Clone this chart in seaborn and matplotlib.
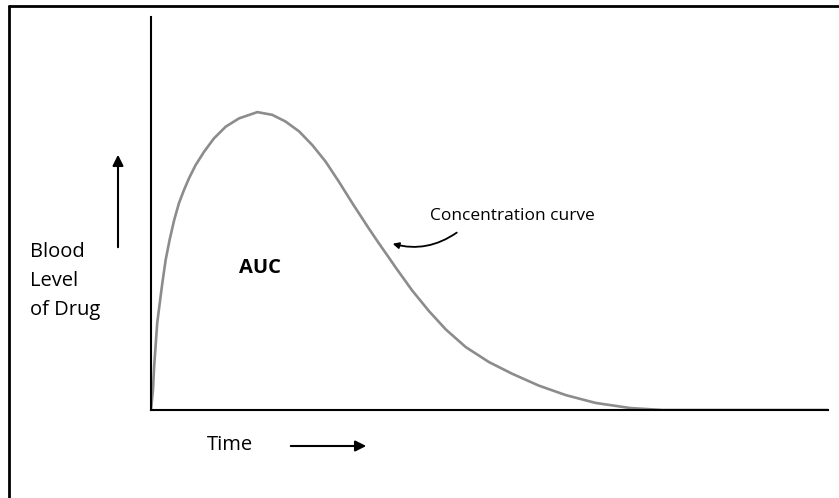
import numpy as np
import pandas as pd
import matplotlib
matplotlib.use("Agg")
import matplotlib.pyplot as plt
from matplotlib.lines import Line2D
import seaborn as sns

temps = [0.0, 0.07, 0.11, 0.17, 0.22, 0.31, 0.40, 0.52, 0.66, 0.82, 0.99, 1.17,
         1.35, 1.58, 1.88, 2.23, 2.65, 3.12, 3.77, 4.30, 4.77, 5.25, 5.72, 6.19,
         6.66, 7.14, 7.73, 8.08, 8.44, 8.67, 9.26, 9.85, 10.45, 11.16, 11.98,
         12.81, 13.75, 14.70, 15.76, 16.99, 18.13, 24.0]
niveaux = [0.0, 5.1, 11.0, 17.0, 22.1, 27.2, 32.2, 38.2, 43.3, 48.3, 52.6, 56.0,
           59.0, 62.3, 65.7, 69.1, 72.1, 74.2, 75.8, 75.1, 73.4, 70.9, 67.4, 63.2,
           58.1, 52.6, 46.1, 42.4, 38.7, 36.3, 30.4, 25.2, 20.5, 16.0, 12.2,
           9.2, 6.2, 3.8, 1.8, 0.5, 0.0, 0.0]

df = pd.DataFrame({"temps": temps, "niveau": niveaux})

sns.set_style("white")
plt.rcParams["font.family"] = ["Open Sans", "DejaVu Sans"]
plt.rcParams["text.color"] = "black"

fig = plt.figure(figsize=(8.39, 4.98), dpi=100)
ax = fig.add_axes([151 / 839, 88 / 498, 677 / 839, 393 / 498])

sns.lineplot(data=df, x="temps", y="niveau", color="#8c8c8c", linewidth=1.9, ax=ax)
ax.set_xlim(0, 24)
ax.set_ylim(0, 100)
ax.set_xticks([])
ax.set_yticks([])
ax.set_xlabel("")
ax.set_ylabel("")
for side in ["top", "right"]:
    ax.spines[side].set_visible(False)
for side in ["left", "bottom"]:
    ax.spines[side].set_color("black")
    ax.spines[side].set_linewidth(1.5)
    ax.spines[side].set_zorder(3)

# Textes
fig.text(30 / 839, 1 - 281 / 498, "Blood\nLevel\nof Drug", fontsize=14.5,
         va="center", ha="left", linespacing=1.6)
fig.text(260 / 839, 1 - 268 / 498, "AUC", fontsize=14.5, fontweight="bold",
         ha="center", va="center")
fig.text(512 / 839, 1 - 216 / 498, "Concentration curve", fontsize=12.5,
         ha="center", va="center")
fig.text(230 / 839, 1 - 445 / 498, "Time", fontsize=14.5, ha="center", va="center")

# Flèches
fleche = dict(arrowstyle="-|>", color="black", lw=1.5, mutation_scale=16)
ax.annotate("", xy=(369 / 839, 1 - 446 / 498), xytext=(288 / 839, 1 - 446 / 498),
            xycoords="figure fraction", annotation_clip=False, arrowprops=fleche)
ax.annotate("", xy=(118 / 839, 1 - 152 / 498), xytext=(118 / 839, 1 - 250 / 498),
            xycoords="figure fraction", annotation_clip=False, arrowprops=fleche)
ax.annotate("", xy=(390 / 839, 1 - 243 / 498), xytext=(459 / 839, 1 - 231 / 498),
            xycoords="figure fraction", annotation_clip=False,
            arrowprops=dict(arrowstyle="-|>", color="black", lw=1.3, mutation_scale=9,
                            connectionstyle="arc3,rad=-0.25"))

# Cadre
fig.add_artist(Line2D([9 / 839, 9 / 839], [0, 1 - 6 / 498], color="black", lw=2))
fig.add_artist(Line2D([9 / 839, 1], [1 - 6 / 498, 1 - 6 / 498], color="black", lw=2))

fig.savefig("out.png", dpi=100)
